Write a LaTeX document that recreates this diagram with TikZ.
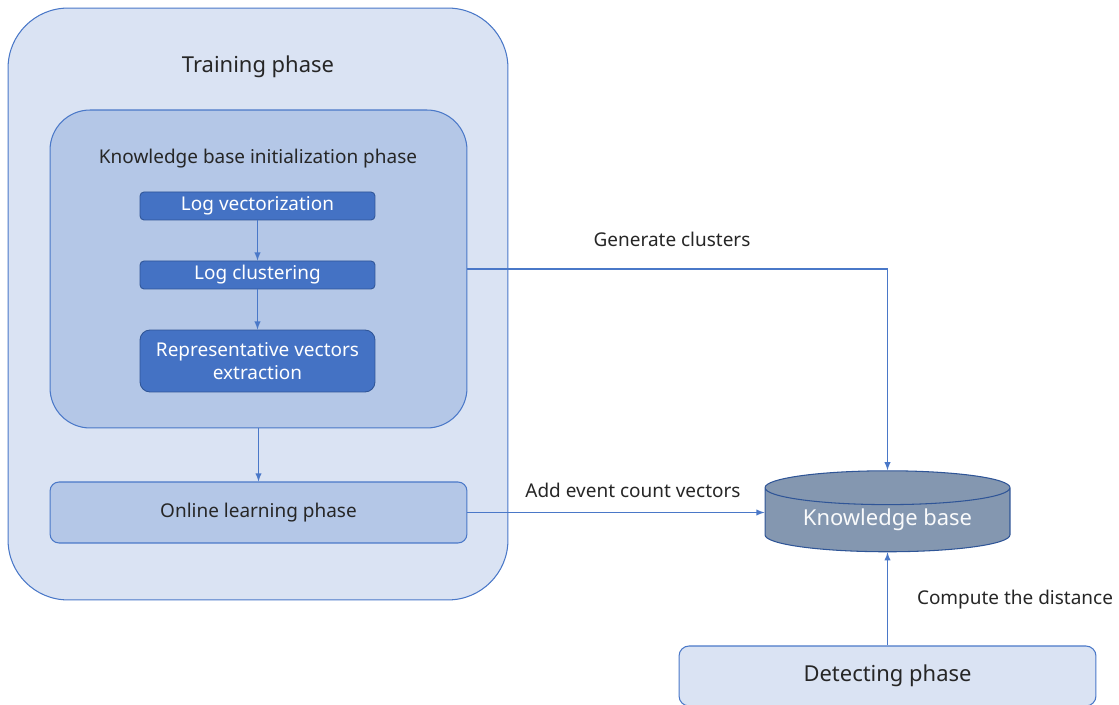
\documentclass[tikz,border=0pt]{standalone}
\usepackage{fontspec}
\setmainfont{Noto Sans}
\usetikzlibrary{arrows, shapes, positioning}
\tikzset{>=latex}

\definecolor{paleblue}{HTML}{DAE3F3}
\definecolor{midblue}{HTML}{B4C7E7}
\definecolor{darkblue}{HTML}{4472C4}
\definecolor{edgeblue}{HTML}{2F5597}
\definecolor{lineblue}{HTML}{4A78C8}
\definecolor{slate}{HTML}{8497B0}
\definecolor{ink}{HTML}{262626}

\tikzset{
  phase/.style={draw=lineblue, line width=0.6pt, rectangle, inner sep=0pt},
  stepbox/.style={draw=edgeblue, fill=darkblue, text=white, line width=0.5pt, rectangle,
    rounded corners=0.08cm, minimum width=4.7cm, minimum height=0.56cm, inner sep=0pt,
    align=center, font=\fontsize{10.8}{13}\selectfont},
  lbl/.style={text=ink, inner sep=0pt, font=\fontsize{10.8}{13}\selectfont},
  flow/.style={->, draw=lineblue, line width=0.6pt}
}

\begin{document}
\begin{tikzpicture}[x=0.02cm, y=-0.02cm]
\useasboundingbox (0,0) rectangle (1119,705);

% training phase and its parts
\node[phase, fill=paleblue, rounded corners=1.2cm, minimum width=10cm, minimum height=11.84cm] (train) at (258,304) {};
\node[lbl, font=\fontsize{12.5}{15}\selectfont] (trainlbl) at (258,67) {Training phase};
\node[phase, fill=midblue, rounded corners=0.8cm, minimum width=8.34cm, minimum height=6.36cm] (init) at (258.5,269) {};
\node[lbl] (initlbl) at (258,159) {Knowledge base initialization phase};
\node[stepbox] (vec) at (257.5,206) {Log vectorization};
\node[stepbox] (clu) at (257.5,275) {Log clustering};
\node[stepbox, minimum height=1.24cm, rounded corners=0.2cm] (rep) at (257.5,361) {Representative vectors\\extraction};
\node[phase, fill=midblue, rounded corners=0.18cm, minimum width=8.34cm, minimum height=1.22cm, text=ink,
  font=\fontsize{10.8}{13}\selectfont] (online) at (258.5,512.5) {Online learning phase};

% knowledge base and detecting phase
\node[cylinder, shape border rotate=90, aspect=0.2, draw=edgeblue, fill=slate, line width=0.6pt,
  minimum width=4.9cm, minimum height=1.62cm, inner sep=0pt, text=white!95!slate,
  font=\fontsize{12.5}{15}\selectfont] (kb) at (887.5,520) {Knowledge base};
\node[phase, fill=paleblue, rounded corners=0.2cm, minimum width=8.34cm, minimum height=1.2cm, text=ink,
  font=\fontsize{12.5}{15}\selectfont] (det) at (887.5,676) {Detecting phase};

% connectors
\draw[flow] (vec) -- (clu);
\draw[flow] (clu) -- (rep);
\draw[flow] (init) -- (online);
\draw[flow] (init.east) -- (kb.north |- init.east) -- (kb.north);
\draw[flow] (online.east) -- (online.east -| kb.west);
\draw[flow] (det.north) -- (kb.south);

\node[lbl] (genlbl) at (672,239) {Generate clusters};
\node[lbl] (addlbl) at (633,490) {Add event count vectors};
\node[lbl] (distlbl) at (1015,600) {Compute the distance};

\end{tikzpicture}
\end{document}
